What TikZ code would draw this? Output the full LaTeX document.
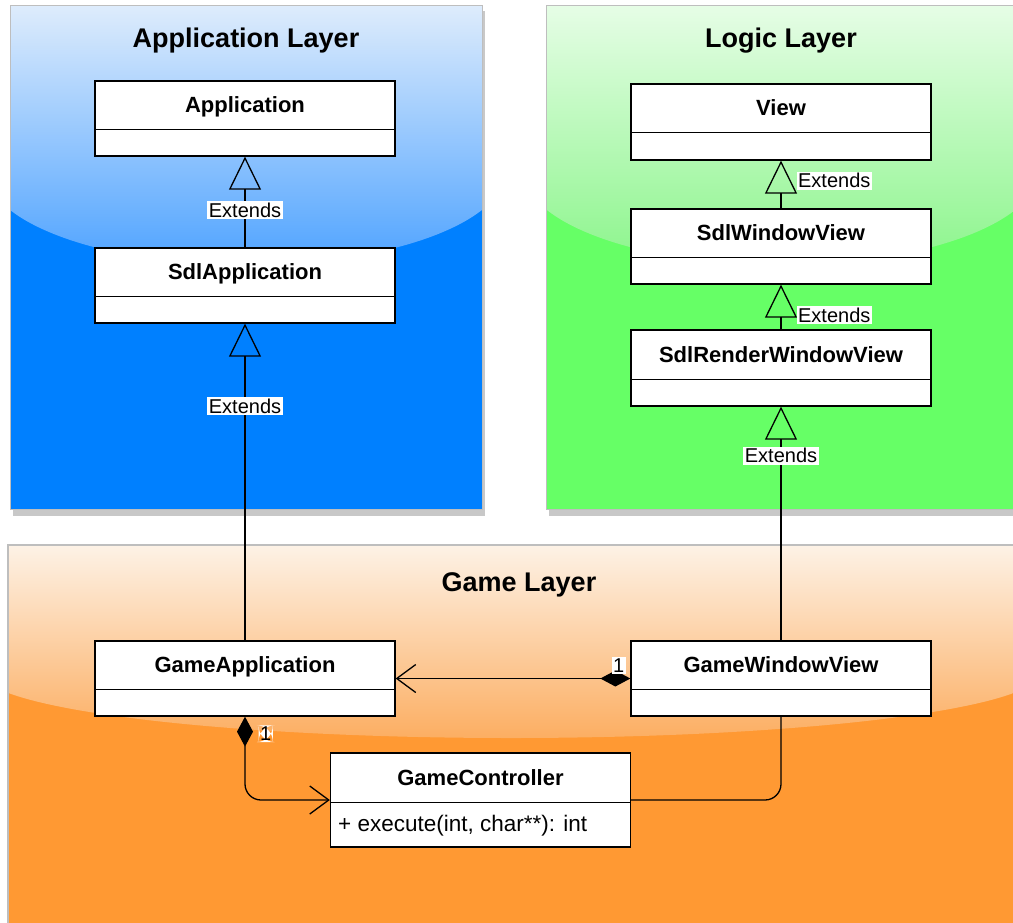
\documentclass[tikz,border=0pt]{standalone}
\usepackage{fontspec}
\setmainfont{Liberation Sans}
\usetikzlibrary{arrows.meta,calc}

\definecolor{blueTop}{HTML}{DEECFC}
\definecolor{blueMid}{HTML}{4FA3FF}
\definecolor{blueDeep}{HTML}{0080FF}
\definecolor{greenTop}{HTML}{E6FDE6}
\definecolor{greenMid}{HTML}{8CF58C}
\definecolor{greenDeep}{HTML}{66FF66}
\definecolor{orangeTop}{HTML}{FDF2E6}
\definecolor{orangeMid}{HTML}{FCAE62}
\definecolor{orangeDeep}{HTML}{FF9933}
\definecolor{panelEdge}{HTML}{BEBEBE}
\definecolor{panelShadow}{HTML}{C8C8C8}

% class box: whole frame, bold title in the upper compartment, divider line
\newcommand\umlclass[6]{%
  \node[clsbox, minimum height=#5pt] (#1) at (#2,{#3+#5/2}) {};
  \node[clsname] (#1-title) at (#2,{#3+#4/2}) {#6};
  \draw[clsline] ($(#1.north west)+(0,#4)$) -- ($(#1.north east)+(0,#4)$);
}

\begin{document}
\begin{tikzpicture}[x=1pt,y=-1pt,
  clsbox/.style={draw=black, line width=1.3pt, fill=white, minimum width=300pt, inner sep=0pt},
  clsname/.style={font=\bfseries\fontsize{22}{26}\selectfont, text height=17pt, text depth=3pt, inner sep=0pt},
  clsline/.style={draw=black, line width=1.3pt},
  layertitle/.style={font=\bfseries\fontsize{27}{32}\selectfont},
  extlbl/.style={fill=white, inner sep=1.5pt, font=\fontsize{20}{24}\selectfont},
  mult/.style={fill=white, inner sep=1.5pt, font=\fontsize{20}{24}\selectfont},
  ext/.style={draw=black, line width=1.3pt, -{Triangle[open, length=33pt, width=32pt]}},
  assoc/.style={draw=black, line width=1.3pt, {Diamond[length=30pt, width=16pt]}-{Straight Barb[length=19pt, width=28pt]}},
  link/.style={draw=black, line width=1.3pt, rounded corners=16pt},
]
\useasboundingbox (0,0) rectangle (1013,922);

% ---------- Application layer panel ----------
\fill[panelShadow] (13,11) rectangle (485,516);
\fill[blueDeep] (10,5) rectangle (482,509);
\begin{scope}
  \clip (10,5) rectangle (482,509);
  \shade[top color=blueTop, bottom color=blueMid]
    (-14,5) -- (506,5) -- (506,170) arc[start angle=0, end angle=180, x radius=260, y radius=95] -- cycle;
\end{scope}
\draw[panelEdge, line width=1pt] (10,5) rectangle (482,509);

% ---------- Logic layer panel ----------
\fill[panelShadow] (549,11) rectangle (1016,516);
\fill[greenDeep] (546,5) rectangle (1016,509);
\begin{scope}
  \clip (546,5) rectangle (1016,509);
  \shade[top color=greenTop, bottom color=greenMid]
    (523,5) -- (1039,5) -- (1039,170) arc[start angle=0, end angle=180, x radius=258, y radius=95] -- cycle;
\end{scope}
\draw[panelEdge, line width=1pt] (546,5) rectangle (1016,509);

% ---------- Game layer panel ----------
\fill[orangeDeep] (8,545) rectangle (1016,925);
\begin{scope}
  \clip (8,545) rectangle (1016,925);
  \shade[top color=orangeTop, bottom color=orangeMid]
    (-19,545) -- (1041,545) -- (1041,672) arc[start angle=0, end angle=180, x radius=530, y radius=66] -- cycle;
\end{scope}
\draw[panelEdge, line width=2pt] (8,925) -- (8,545) -- (1016,545);

% ---------- layer titles ----------
\node[layertitle] (appLayer) at (246,41) {Application Layer};
\node[layertitle] (logicLayer) at (781,41) {Logic Layer};
\node[layertitle] (gameLayer) at (519,585) {Game Layer};

% ---------- classes ----------
\umlclass{app}{245}{81}{49}{75}{Application}
\umlclass{sdlapp}{245}{248}{49}{75}{SdlApplication}
\umlclass{view}{781}{84}{49}{76}{View}
\umlclass{sdlwin}{781}{209}{49}{75}{SdlWindowView}
\umlclass{sdlrwin}{781}{330}{50}{76}{SdlRenderWindowView}
\umlclass{gameapp}{245}{641}{49}{75}{GameApplication}
\umlclass{gamewin}{781}{641}{49}{75}{GameWindowView}
\umlclass{gamectl}{480.5}{753}{50}{94}{GameController}
\node[anchor=west, inner sep=0pt, font=\fontsize{22.5}{26}\selectfont] (gamectl-op) at (338,826) {+ execute(int, char**): int};

% ---------- generalisations ----------
\draw[ext] (sdlapp.north) -- (app.south) node[extlbl, pos=0.41] {Extends};
\draw[ext] (gameapp.north) -- (sdlapp.south) node[extlbl, pos=0.739] {Extends};
\draw[ext] (sdlwin.north) -- (view.south) node[extlbl, pos=0.58, anchor=west, xshift=15pt] {Extends};
\draw[ext] (sdlrwin.north) -- (sdlwin.south) node[extlbl, pos=0.32, anchor=west, xshift=15pt] {Extends};
\draw[ext] (gamewin.north) -- (sdlrwin.south) node[extlbl, pos=0.79] {Extends};

% ---------- associations ----------
\draw[assoc] (gamewin.west) -- (gameapp.east)
  node[mult, pos=0, anchor=east, xshift=-4pt, yshift=13pt] {1};
\draw[assoc, rounded corners=16pt] (gameapp.south) |- (gamectl.west)
  node[mult, pos=0, anchor=west, xshift=13pt, yshift=-17pt] {1};
\draw[link] (gamewin.south) |- (gamectl.east);

\end{tikzpicture}
\end{document}
